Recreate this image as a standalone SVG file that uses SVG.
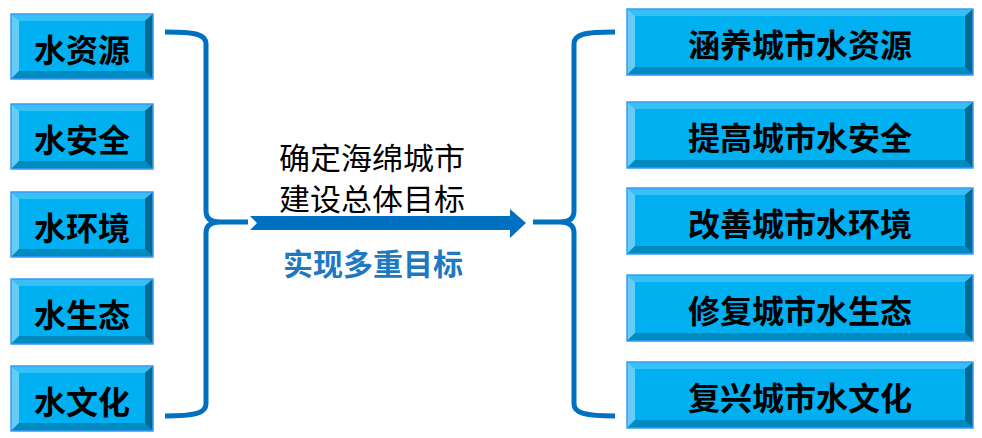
<svg xmlns="http://www.w3.org/2000/svg" width="982" height="438" viewBox="0 0 982 438">
<style>
.m{fill:#00B0F0}
.t{fill:#36C0F5}
.l{fill:#66CCF7}
.b{fill:#008BC0}
.r{fill:#006A92}
.o{fill:none;stroke:#3A99F5;stroke-width:1.5}
.bt{font-family:"Noto Sans CJK SC","Noto Sans",sans-serif;font-weight:bold;font-size:32px;fill:#000;text-anchor:middle;dominant-baseline:central}
.ct{font-family:"Noto Sans CJK SC","Noto Sans",sans-serif;font-size:30px;fill:#000;text-anchor:middle;dominant-baseline:central}
.cb{font-family:"Noto Sans CJK SC","Noto Sans",sans-serif;font-weight:bold;font-size:30px;fill:#1F78C2;text-anchor:middle;dominant-baseline:central}
.br{fill:none;stroke:#0070C0;stroke-width:5;stroke-linecap:butt}
</style>
<defs>
<g id="lb">
<rect class="m" x="0" y="0" width="142" height="65"/>
<polygon class="t" points="0,0 142,0 134,7 8,7"/>
<polygon class="l" points="0,0 8,7 8,57 0,65"/>
<polygon class="b" points="0,65 8,57 134,57 142,65"/>
<polygon class="r" points="142,0 142,65 134,57 134,7"/>
<rect class="o" x="0" y="0" width="142" height="65"/>
</g>
<g id="rb">
<rect class="m" x="0" y="0" width="346" height="66"/>
<polygon class="t" points="0,0 346,0 338,7 8,7"/>
<polygon class="l" points="0,0 8,7 8,58 0,66"/>
<polygon class="b" points="0,66 8,58 338,58 346,66"/>
<polygon class="r" points="346,0 346,66 338,58 338,7"/>
<rect class="o" x="0" y="0" width="346" height="66"/>
</g>
</defs>
<g id="left-1"><use href="#lb" x="11" y="14"/><text class="bt" x="82" y="48">水资源</text></g>
<g id="left-2"><use href="#lb" x="11" y="104"/><text class="bt" x="82" y="138">水安全</text></g>
<g id="left-3"><use href="#lb" x="11" y="192"/><text class="bt" x="82" y="226">水环境</text></g>
<g id="left-4"><use href="#lb" x="11" y="279"/><text class="bt" x="82" y="313">水生态</text></g>
<g id="left-5"><use href="#lb" x="11" y="366"/><text class="bt" x="82" y="400">水文化</text></g>
<g id="right-1"><use href="#rb" x="627" y="9"/><text class="bt" x="800" y="43">涵养城市水资源</text></g>
<g id="right-2"><use href="#rb" x="627" y="102"/><text class="bt" x="800" y="136">提高城市水安全</text></g>
<g id="right-3"><use href="#rb" x="627" y="188"/><text class="bt" x="800" y="222">改善城市水环境</text></g>
<g id="right-4"><use href="#rb" x="627" y="275"/><text class="bt" x="800" y="309">修复城市水生态</text></g>
<g id="right-5"><use href="#rb" x="627" y="362"/><text class="bt" x="800" y="396">复兴城市水文化</text></g>
<g id="connectors">
<path class="br" d="M165,32 C195,32 206,34 206,44 L206,211 Q206,222 220,222 L248,222 M220,222 Q206,222 206,233 L206,404 C206,413 195,416 165,416"/>
<path class="br" d="M615,32 C585,32 574,34 574,44 L574,211 Q574,222 560,222 L533,222 M560,222 Q574,222 574,233 L574,404 C574,413 585,416 615,416"/>
<polygon fill="#0070C0" points="250,216 510,216 510,209 526,223 510,238 510,230 250,230 257,223"/>
</g>
<g id="center-text">
<text class="ct" x="372" y="156" textLength="186" lengthAdjust="spacingAndGlyphs">确定海绵城市</text>
<text class="ct" x="372" y="197" textLength="186" lengthAdjust="spacingAndGlyphs">建设总体目标</text>
<text class="cb" x="373" y="262">实现多重目标</text>
</g>
</svg>
